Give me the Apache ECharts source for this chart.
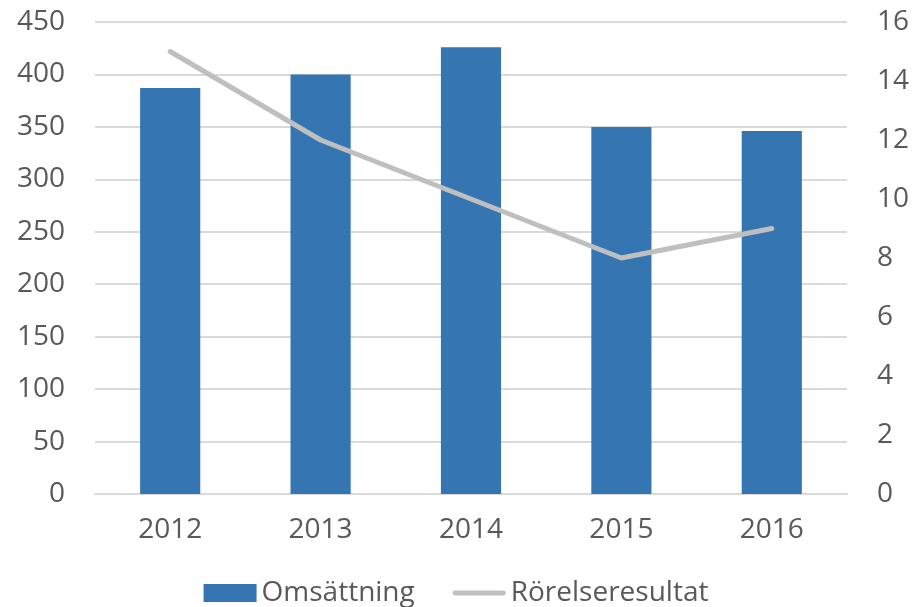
<!DOCTYPE html>
<html>
<head>
<meta charset="utf-8">
<script src="https://cdn.jsdelivr.net/npm/echarts@6/dist/echarts.min.js"></script>
<style>
  html, body { margin: 0; padding: 0; background: #fff; }
  #chart { width: 912px; height: 607px; }
</style>
</head>
<body>
<div id="chart"></div>
<script>
// 数据
const years = ['2012', '2013', '2014', '2015', '2016'];
const omsattning = [387, 400, 426, 350, 346];
const rorelseresultat = [15, 12, 10, 8, 9];
const leftTicks = [0, 450, 50];   // min, max, interval
const rightTicks = [0, 16, 2];

const chart = echarts.init(document.getElementById('chart'));

const textColor = '#595959';
const fontFamily = '"Open Sans", sans-serif';

// 图表配置
const option = {
  animation: false,
  textStyle: { fontFamily: fontFamily },
  grid: {
    left: 95,
    right: 65,
    top: 22,
    bottom: 113
  },
  legend: {
    top: 574,
    itemWidth: 53,
    itemHeight: 18,
    itemGap: 38,
    symbolKeepAspect: true,
    textStyle: { color: textColor, fontSize: 28, fontFamily: fontFamily },
    data: [
      { name: 'Omsättning', icon: 'rect' },
      {
        name: 'Rörelseresultat',
        icon: 'path://M2.5,0 L52.5,0 A2.5,2.5 0 0 1 52.5,5 L2.5,5 A2.5,2.5 0 0 1 2.5,0 Z'
      }
    ]
  },
  xAxis: {
    type: 'category',
    data: years,
    axisLine: { lineStyle: { color: '#d9d9d9', width: 2 } },
    axisTick: { show: false },
    axisLabel: { color: textColor, fontSize: 28, margin: 22 }
  },
  yAxis: [
    {
      type: 'value',
      min: leftTicks[0],
      max: leftTicks[1],
      interval: leftTicks[2],
      axisLine: { show: false },
      axisTick: { show: false },
      axisLabel: { color: textColor, fontSize: 28, margin: 30 },
      splitLine: { lineStyle: { color: '#d9d9d9', width: 2 } }
    },
    {
      type: 'value',
      min: rightTicks[0],
      max: rightTicks[1],
      interval: rightTicks[2],
      axisLine: { show: false },
      axisTick: { show: false },
      axisLabel: { color: textColor, fontSize: 28, margin: 30 },
      splitLine: { show: false }
    }
  ],
  series: [
    {
      name: 'Omsättning',
      type: 'bar',
      data: omsattning,
      barWidth: '40%',
      itemStyle: { color: '#3575B2' }
    },
    {
      name: 'Rörelseresultat',
      type: 'line',
      yAxisIndex: 1,
      data: rorelseresultat,
      symbol: 'none',
      lineStyle: { color: '#BFBFBF', width: 5, cap: 'round' },
      itemStyle: { color: '#BFBFBF' }
    }
  ]
};

chart.setOption(option);
</script>
</body>
</html>
